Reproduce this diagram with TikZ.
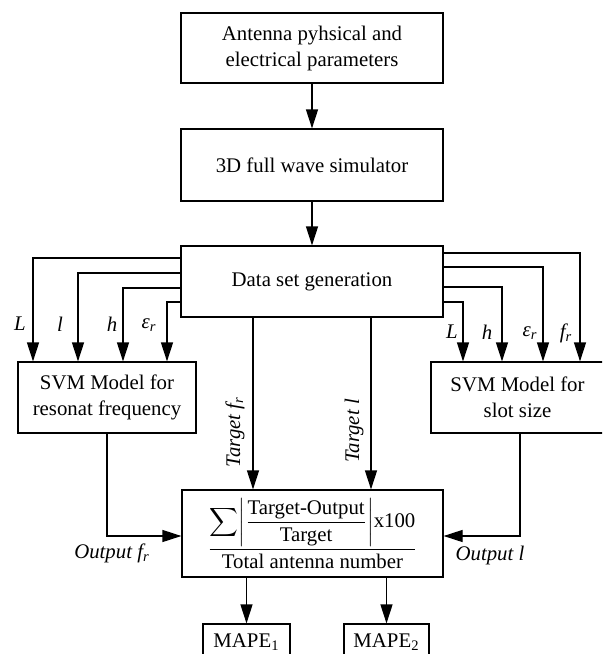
\documentclass[tikz,border=0pt]{standalone}
\usepackage{amsmath}
\usepackage{fontspec}
\setmainfont{Liberation Serif}
\usetikzlibrary{arrows.meta, positioning}

\begin{document}
\begin{tikzpicture}[x=0.5pt, y=-0.5pt,
    box/.style={draw, line width=0.6pt, align=center, inner sep=1pt, font=\fontsize{10.4}{13}\selectfont},
    arr/.style={line width=0.6pt, -{Triangle[length=9.5pt, width=6pt]}},
    lbl/.style={font=\fontsize{10.4}{13}\selectfont\itshape, inner sep=0pt}]
    % 画布
    \useasboundingbox (0,0) rectangle (602,654);
    \clip (0,0) rectangle (602,654);

    % 上面三个框
    \node[box, minimum width=131pt, minimum height=35pt] (param) at (312,48) {Antenna pyhsical and\\electrical parameters};
    \node[box, minimum width=131pt, minimum height=36pt] (sim) at (312,165) {3D full wave simulator};
    \node[box, minimum width=131pt, minimum height=35.5pt] (data) at (312,281.5) {Data set generation};

    \draw[arr] (param) -- (sim);
    \draw[arr] (sim) -- (data);

    % 两个SVM模型
    \node[box, minimum width=89pt, minimum height=35.5pt] (svmL) at (107,397.5) {SVM Model for\\resonat frequency};
    \node[box, minimum width=86.5pt, minimum height=35.5pt] (svmR) at (517.5,397.5) {SVM Model for\\slot size};

    % 输入参数
    \foreach \y/\x in {258/33, 273/78, 288/123, 302/167}
        \draw[arr] (data.west |- 0,\y) -| (svmL.north -| \x,0);
    \foreach \y/\x in {253/580, 267/543, 287/502, 302/463}
        \draw[arr] (data.east |- 0,\y) -| (svmR.north -| \x,0);

    \node[lbl] (inL1) at (20,324) {L};
    \node[lbl] (inl1) at (60,324) {l};
    \node[lbl] (inh1) at (112,324) {h};
    \node[lbl] (ine1) at (149,325) {ε\textsubscript{r}};
    \node[lbl] (inL2) at (452,332) {L};
    \node[lbl] (inh2) at (487,332) {h};
    \node[lbl] (ine2) at (530,333) {ε\textsubscript{r}};
    \node[lbl] (inf2) at (566,333) {f\textsubscript{r}};

    % 误差框
    \node[box, minimum width=130.5pt, minimum height=43.5pt] (err) at (312.5,533.5)
        {\raisebox{-2.5pt}{$\dfrac{\displaystyle\sum\!\left|\dfrac{\mbox{Target-Output}}{\mbox{Target}}\right|\!\mbox{x100}}{\mbox{Total antenna number}}$}};

    \draw[arr] (data.south -| 253,0) -- (err.north -| 253,0);
    \draw[arr] (data.south -| 371,0) -- (err.north -| 371,0);
    \node[lbl, rotate=90] (tgtf) at (235,432) {Target f\textsubscript{r}};
    \node[lbl, rotate=90] (tgtl) at (354,431) {Target l};

    \draw[arr] (svmL.south) |- (err.west |- 0,536);
    \draw[arr] (svmR.south -| 520,0) |- (err.east |- 0,536);
    \node[lbl] (outf) at (112,553) {Output f\textsubscript{r}};
    \node[lbl] (outl) at (490,555) {Output l};

    % MAPE
    \node[box, minimum width=43.5pt, minimum height=18pt] (mape1) at (246.5,642) {MAPE\textsubscript{1}};
    \node[box, minimum width=42.5pt, minimum height=18pt] (mape2) at (386.5,642) {MAPE\textsubscript{2}};
    \draw[arr] (err.south -| mape1) -- (mape1);
    \draw[arr] (err.south -| mape2) -- (mape2);
\end{tikzpicture}
\end{document}
